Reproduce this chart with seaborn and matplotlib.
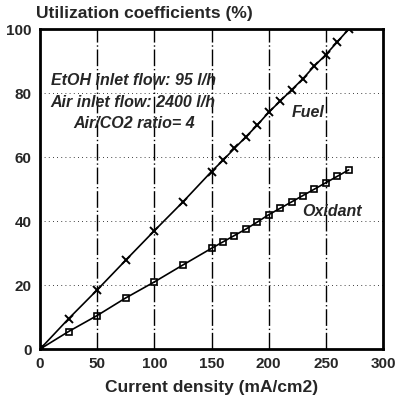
import numpy as np
import pandas as pd
import matplotlib
matplotlib.use("Agg")
import matplotlib.pyplot as plt
import seaborn as sns

current = [0, 25, 50, 75, 100, 125, 150, 160, 170, 180, 190, 200, 210, 220, 230, 240, 250, 260, 270]
fuel = [0, 9.5, 18.5, 27.8, 37, 46, 55.5, 59, 62.7, 66.3, 70, 74, 77.5, 81, 84.5, 88.5, 92, 96, 100]
oxidant = [0, 5.5, 10.5, 16, 21, 26.3, 31.5, 33.5, 35.5, 37.5, 39.7, 42, 44, 46, 48, 50, 52, 54, 56]

df = pd.DataFrame({"current": current, "Fuel": fuel, "Oxidant": oxidant})

sns.set_style("white")
plt.rcParams['font.family'] = ['Liberation Sans', 'DejaVu Sans']

fig = plt.figure(figsize=(4, 3.99), dpi=100)
ax = fig.add_axes([0.1, 0.125, 0.8575, 0.802])

sns.lineplot(data=df, x="current", y="Fuel", ax=ax, color="black", lw=1.2,
             marker="x", markersize=6, markeredgewidth=1.4, markeredgecolor="black")
sns.lineplot(data=df, x="current", y="Oxidant", ax=ax, color="black", lw=1.2,
             marker="s", markersize=5, markerfacecolor="none",
             markeredgewidth=1.2, markeredgecolor="black")

ax.set_xlim(0, 300)
ax.set_ylim(0, 100)
ax.set_xticks([0, 50, 100, 150, 200, 250, 300])
ax.set_yticks([0, 20, 40, 60, 80, 100])
for xv in [50, 100, 150, 200, 250]:
    ax.axvline(xv, color="black", lw=1.0, ls=(0, (12, 2, 1, 2)), zorder=0)
for yv in [20, 40, 60, 80]:
    ax.axhline(yv, color="black", lw=0.6, ls=(0, (1, 4)), zorder=0)

for s in ax.spines.values():
    s.set_linewidth(2)
    s.set_color("black")
ax.tick_params(direction="out", length=3, width=1.2, labelsize=11, pad=3)
for lbl in ax.get_xticklabels() + ax.get_yticklabels():
    lbl.set_fontweight("bold")

ax.set_xlabel("Current density (mA/cm2)", fontsize=12.5, fontweight="bold", labelpad=6)
ax.set_ylabel("")
fig.text(0.09, 0.955, "Utilization coefficients (%)", fontsize=12.5, fontweight="bold")

note = dict(fontsize=11.5, fontweight="bold", style="italic", va="center")
ax.text(10, 84, "EtOH inlet flow: 95 l/h", **note)
ax.text(9, 77, "Air inlet flow: 2400 l/h", **note)
ax.text(29, 70.5, "Air/CO2 ratio= 4", **note)
ax.text(220, 74, "Fuel", **note)
ax.text(229, 43, "Oxidant", **note)

fig.savefig("out.png", dpi=100)
